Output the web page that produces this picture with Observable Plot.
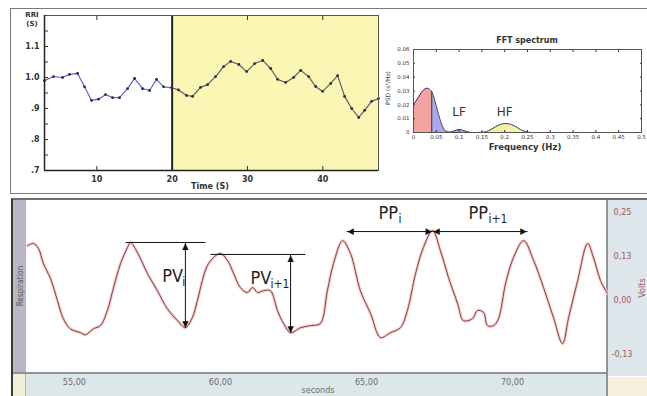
<!DOCTYPE html>
<html><head><meta charset="utf-8">
<script src="https://cdn.jsdelivr.net/npm/d3@7"></script>
<script src="https://cdn.jsdelivr.net/npm/@observablehq/plot@0.6"></script>
<style>
body{margin:0;background:#fff;}
#root{position:relative;width:647px;height:396px;overflow:hidden;background:#fff;font-family:"DejaVu Sans",sans-serif;}
.t{position:absolute;white-space:nowrap;line-height:1;}
</style></head><body><div id="root"></div>
<script>
// ---------- DATA ----------
// RRI series (top left)
const rriTime = [3.05,4.25,5.45,6.37,7.44,8.37,9.30,10.23,11.16,12.09,13.01,14.08,15.01,16.07,17.0,17.93,18.86,19.92,20.85,21.91,22.71,23.77,24.70,25.76,26.83,27.76,28.85,29.89,30.96,32.02,33.08,34.0,35.07,36.13,37.06,38.12,39.05,39.98,41.05,41.97,42.9,43.84,44.77,45.56,46.49,47.4];
const rriValue = [0.99,1.003,1.0,1.01,1.013,0.97,0.926,0.93,0.945,0.935,0.935,0.964,0.997,0.964,0.958,0.994,0.97,0.967,0.96,0.942,0.939,0.968,0.977,1.003,1.035,1.052,1.042,1.019,1.045,1.055,1.029,0.994,0.984,1.0,1.023,1.003,0.971,0.955,0.981,1.006,0.939,0.9,0.871,0.894,0.923,0.932];
const rriWindowStart = 20;
const rriXTicks = [10,20,30,40];
const rriYTicks = [0.7,0.75,0.8,0.85,0.9,0.95,1.0,1.05,1.1,1.15];
const rriYLabels = {"0.7":".7","0.8":".8","0.9":".9","1":"1.0","1.1":"1.1"};

// FFT spectrum (top right)
const fftFreq = [0,0.01,0.02,0.03,0.04,0.05,0.06,0.07,0.08,0.09,0.10,0.11,0.12,0.13,0.14,0.15,0.16,0.17,0.18,0.19,0.20,0.21,0.22,0.23,0.24,0.25,0.26,0.3,0.35,0.4,0.45,0.5];
const fftPsd  = [0.020,0.025,0.030,0.032,0.0295,0.019,0.0075,0.0012,0.0002,0.0012,0.0022,0.0014,0.0003,0,0,0.0001,0.0007,0.0022,0.0042,0.0058,0.0065,0.0062,0.005,0.0031,0.0013,0.0003,0,0,0,0,0,0];
const bandLo = [0, 0.04, 0.15];
const bandHi = [0.04, 0.15, 0.4];
const bandNames = ["", "LF", "HF"];
const bandLabelFreq = [null, 0.1, 0.2];
const bandLabelPsd = 0.0145;
const fftXTicks = [0,0.05,0.1,0.15,0.2,0.25,0.3,0.35,0.4,0.45,0.5];
const fftYTicks = [0,0.01,0.02,0.03,0.04,0.05,0.06];

// Respiration trace (bottom)
const respTime = [53.39,53.60,53.77,53.94,54.18,54.42,54.62,54.86,55.21,55.38,55.65,55.89,56.13,56.34,56.58,56.82,56.92,57.16,57.50,57.84,58.18,58.53,58.80,59.04,59.21,59.38,59.55,59.76,60.00,60.24,60.45,60.68,60.92,61.10,61.27,61.47,61.71,61.95,62.16,62.40,62.74,63.08,63.42,63.66,63.87,64.18,64.45,64.79,65.14,65.48,65.82,66.16,66.40,66.68,66.95,67.26,67.53,67.81,68.12,68.32,68.63,68.80,69.01,69.14,69.35,69.52,69.76,70.03,70.38,70.72,71.06,71.40,71.71,71.92,72.23,72.57,72.77,73.01,73.25];
const respVolt = [0.156,0.162,0.148,0.105,0.063,0,-0.051,-0.080,-0.091,-0.097,-0.080,-0.071,-0.028,0.037,0.105,0.151,0.165,0.136,0.077,0.028,-0.023,-0.057,-0.077,-0.048,0,0.057,0.099,0.122,0.134,0.114,0.077,0.037,0.023,0.037,0.023,0.028,0.028,-0.028,-0.065,-0.091,-0.077,-0.071,-0.065,0.028,0.105,0.170,0.134,0.028,-0.037,-0.105,-0.091,-0.077,-0.028,0.077,0.151,0.199,0.142,0.065,-0.009,-0.057,-0.051,-0.028,-0.034,-0.071,-0.071,-0.051,0.048,0.122,0.170,0.114,0.037,-0.048,-0.122,-0.048,0.057,0.162,0.122,0.057,0.020];
const respXTicks = [55,60,65,70];
const respYTicksMain = [0.25,0.125,0];
const respYTicksLow = [-0.125];

// Annotations (data units)
const pvSub = ["i","i+1"];
const pvLineStart = [56.75, 59.66];
const pvLineEnd = [59.49, 62.91];
const pvTop = [0.165, 0.131];
const pvArrowT = [58.80, 62.40];
const pvBottom = [-0.077, -0.091];
const pvTextT = [58.01, 61.03];
const pvTextV = [0.068, 0.064];
const ppSub = ["i","i+1"];
const ppStart = [64.32, 67.26];
const ppEnd = [67.26, 70.51];
const ppLevel = [0.196, 0.196];
const ppTextT = [65.41, 68.49];
const ppTextV = [0.249, 0.249];

// ---------- LAYOUT HELPERS ----------
const root = document.getElementById("root");
function box(l,t,w,h,css){const d=document.createElement("div");d.style.cssText=`position:absolute;left:${l}px;top:${t}px;width:${w}px;height:${h}px;${css}`;root.appendChild(d);return d;}
function txt(s,cx,cy,css,rot){const d=document.createElement("div");d.className="t";d.textContent=s;d.style.cssText+=`left:${cx}px;top:${cy}px;transform:translate(-50%,-50%)${rot?` rotate(${rot}deg)`:""};${css}`;root.appendChild(d);return d;}
function put(svg,l,t){svg.style.position="absolute";svg.style.left=l+"px";svg.style.top=t+"px";root.appendChild(svg);}

// ---------- BACKGROUND PANELS ----------
box(10,8,645,184,"border:1.5px solid #7a7a7a;border-right:none;background:#fff;");
box(11,198,640,2,"background:#6e6e6e;");
box(11,199,2,197,"background:#3a3a3a;");
box(13,200,13,173,"background:#b9b6c6;");
box(13,374,13,22,"background:#f2efd9;");
box(26,374,581,22,"background:#dde7e9;");
box(608,200,39,176,"background:#dce6eb;");
box(608,377,39,19,"background:#f4f0dc;");
box(13,372,594,2,"background:#8c9595;");
box(606,200,2,196,"background:#8c9595;");
box(25,374,1,22,"background:#b0b8b8;");

// ---------- CHART 1: RRI ----------
const rri = rriTime.map((t,i)=>({t, v: rriValue[i]}));
const p1 = Plot.plot({
  width: 370, height: 185, marginLeft: 34, marginRight: 2, marginTop: 7, marginBottom: 23,
  x: {domain: [rriTime[0], rriTime[rriTime.length-1]], label: null},
  y: {domain: [0.7, 1.2], label: null},
  style: {background: "transparent", overflow: "visible", fontFamily: "DejaVu Sans", fontWeight: "bold", fontSize: "8px", color: "#333"},
  marks: [
    Plot.rect([{a: rriWindowStart, b: rriTime[rriTime.length-1]}], {x1: "a", x2: "b", fill: "#faf6b4"}),
    Plot.ruleX([rriWindowStart], {stroke: "#222", strokeWidth: 2}),
    Plot.line(rri.filter(d => d.t <= rriWindowStart), {x: "t", y: "v", stroke: "#5a66d8", strokeWidth: 1.2}),
    Plot.line(rri.filter(d => d.t >= 19.9), {x: "t", y: "v", stroke: "#5d5d6a", strokeWidth: 1.2}),
    Plot.dot(rri, {x: "t", y: "v", r: 1.4, fill: "#2a2a44"}),
    Plot.axisX(rriXTicks, {anchor: "bottom", label: null, tickSize: -4, tickPadding: 10, tickFormat: d => d, fontWeight: "bold"}),
    Plot.axisX(rriXTicks, {anchor: "top", label: null, tickSize: -4, tickFormat: () => ""}),
    Plot.axisY(rriYTicks, {anchor: "left", label: null, tickSize: -4, tickPadding: 9, tickFormat: d => rriYLabels[String(+d.toFixed(2))] ?? "", fontWeight: "bold"}),
    Plot.frame({stroke: "#555"}),
    Plot.ruleX([rriTime[0]], {stroke: "#222", strokeWidth: 1.5}),
    Plot.ruleY([0.7], {stroke: "#222", strokeWidth: 1.5})
  ]
});
put(p1, 10, 8);
txt("RRI", 32, 15, "font:bold 7px 'DejaVu Sans';color:#333;");
txt("(S)", 32, 24, "font:bold 7px 'DejaVu Sans';color:#333;");
txt("Time (S)", 210, 186, "font:bold 8px 'DejaVu Sans';color:#333;");

// ---------- CHART 2: FFT ----------
const fft = fftFreq.map((f,i)=>({f, p: fftPsd[i]}));
const bandColors = ["#f4a2a2", "#a9a9ef", "#f2f0a2"];
const p2 = Plot.plot({
  width: 264, height: 130, marginLeft: 30, marginRight: 6, marginTop: 21, marginBottom: 26,
  x: {domain: [0, 0.5], label: null},
  y: {domain: [0, 0.06], label: null},
  style: {background: "transparent", overflow: "visible", fontFamily: "DejaVu Sans", fontSize: "5.5px", color: "#333"},
  marks: [
    ...bandLo.map((lo, i) => Plot.areaY(fft.filter(d => d.f >= lo && d.f <= bandHi[i]), {x: "f", y: "p", fill: bandColors[i], curve: "monotone-x"})),
    Plot.line(fft, {x: "f", y: "p", stroke: "#3c3c66", strokeWidth: 1, curve: "monotone-x"}),
    Plot.ruleX([bandHi[0]], {y1: 0, y2: fftPsd[fftFreq.indexOf(bandHi[0])], stroke: "#333", strokeWidth: 1}),
    Plot.text(bandNames.map((n,i)=>({n, f: bandLabelFreq[i]})).filter(d => d.n), {x: "f", y: () => bandLabelPsd, text: "n", fontSize: 12, fontFamily: "DejaVu Sans", fill: "#333"}),
    Plot.axisX(fftXTicks, {anchor: "bottom", label: null, tickSize: -2, tickPadding: 5, tickFormat: d => String(+d.toFixed(2))}),
    Plot.axisX(fftXTicks, {anchor: "top", label: null, tickSize: -2, tickFormat: () => ""}),
    Plot.axisY(fftYTicks, {anchor: "left", label: null, tickSize: -2, tickPadding: 6, tickFormat: d => String(+d.toFixed(2))}),
    Plot.axisY(fftYTicks, {anchor: "right", label: null, tickSize: -2, tickFormat: () => ""}),
    Plot.frame({stroke: "#555"})
  ]
});
put(p2, 383, 28);
txt("FFT spectrum", 527, 40, "font:bold 8px 'DejaVu Sans';color:#333;");
txt("Frequency (Hz)", 525, 147, "font:bold 8.5px 'DejaVu Sans';color:#333;");
txt("PSD (s²/Hz)", 387, 88, "font:6px 'DejaVu Sans';color:#444;", -90);

// ---------- CHART 3: Respiration ----------
const resp = respTime.map((t,i)=>({t, v: respVolt[i]}));
const narrow = "'DejaVu Sans Condensed','DejaVu Sans',sans-serif";
const pv = pvSub.map((s,i)=>({s, a: pvLineStart[i], b: pvLineEnd[i], top: pvTop[i], at: pvArrowT[i], bot: pvBottom[i], tt: pvTextT[i], tv: pvTextV[i]}));
const pp = ppSub.map((s,i)=>({s, a: ppStart[i], b: ppEnd[i], y: ppLevel[i], tt: ppTextT[i], tv: ppTextV[i]}));
const p3 = Plot.plot({
  width: 621, height: 197, marginLeft: 0, marginRight: 40, marginTop: 0, marginBottom: 23,
  x: {domain: [53.36, 73.25], label: null},
  y: {domain: [-0.207, 0.287], label: null},
  style: {background: "transparent", overflow: "visible", fontFamily: narrow, fontStretch: "condensed", fontSize: "9px"},
  marks: [
    Plot.line(resp, {x: "t", y: "v", stroke: "#f2cccc", strokeWidth: 3, curve: "catmull-rom"}),
    Plot.line(resp, {x: "t", y: "v", stroke: "#8c3d3d", strokeWidth: 1, curve: "catmull-rom"}),
    // PV annotations
    Plot.link(pv, {x1: "a", x2: "b", y1: "top", y2: "top", stroke: "#111", strokeWidth: 1}),
    Plot.link(pv, {x1: "at", x2: "at", y1: "top", y2: "bot", stroke: "#111", strokeWidth: 1}),
    Plot.text(pv, {x: "at", y: "top", text: () => "▲", dy: 4, fontSize: 9, fontFamily: "DejaVu Sans", fill: "#111"}),
    Plot.text(pv, {x: "at", y: "bot", text: () => "▼", dy: -4, fontSize: 9, fontFamily: "DejaVu Sans", fill: "#111"}),
    Plot.text(pv, {x: "tt", y: "tv", text: () => "PV", textAnchor: "start", fontSize: 18, fill: "#222"}),
    Plot.text(pv, {x: "tt", y: "tv", text: "s", textAnchor: "start", dx: 20, dy: 6, fontSize: 12, fill: "#222"}),
    // PP annotations
    Plot.link(pp, {x1: "a", x2: "b", y1: "y", y2: "y", stroke: "#111", strokeWidth: 1}),
    Plot.text(pp, {x: "a", y: "y", text: () => "◀", dx: 4, fontSize: 9, fontFamily: "DejaVu Sans", fill: "#111"}),
    Plot.text(pp, {x: "b", y: "y", text: () => "▶", dx: -4, fontSize: 9, fontFamily: "DejaVu Sans", fill: "#111"}),
    Plot.text(pp, {x: "tt", y: "tv", text: () => "PP", textAnchor: "start", fontSize: 18, fill: "#222"}),
    Plot.text(pp, {x: "tt", y: "tv", text: "s", textAnchor: "start", dx: 20, dy: 6, fontSize: 12, fill: "#222"}),
    // axes
    Plot.axisX(respXTicks, {anchor: "bottom", label: null, tickSize: 0, tickPadding: 5, tickFormat: d => d.toFixed(2).replace(".", ","), fill: "#6a6a6a"}),
    Plot.axisY(respYTicksMain, {anchor: "right", label: null, tickSize: 0, tickPadding: 6, tickFormat: d => d.toFixed(2).replace(".", ","), fill: "#a85a5a"}),
    Plot.axisY(respYTicksLow, {anchor: "right", label: null, tickSize: 0, tickPadding: 4, dy: 9, tickFormat: d => d.toFixed(2).replace(".", ","), fill: "#a85a5a"})
  ]
});
put(p3, 26, 199);
txt("Respiration", 20, 286, `font:8px ${narrow};font-stretch:condensed;color:#555;`, -90);
txt("Volts", 642, 288, `font:9px ${narrow};font-stretch:condensed;color:#a85a5a;`, -90);
txt("seconds", 318, 390, `font:9px ${narrow};font-stretch:condensed;color:#6a6a6a;`);
</script>
</body></html>
